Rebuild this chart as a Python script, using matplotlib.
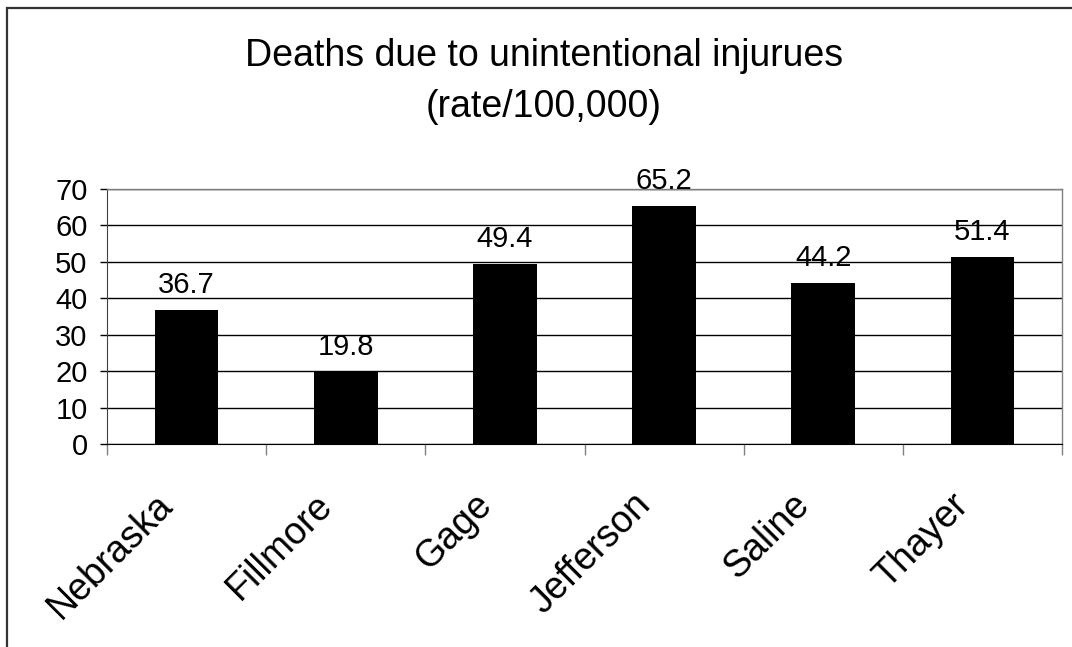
import numpy as np
import matplotlib
matplotlib.use("Agg")
import matplotlib.pyplot as plt
from matplotlib.patches import Rectangle
from matplotlib.transforms import ScaledTranslation

# === Data ===
counties = ["Nebraska", "Fillmore", "Gage", "Jefferson", "Saline", "Thayer"]
rates = [36.7, 19.8, 49.4, 65.2, 44.2, 51.4]
y_ticks = [0, 10, 20, 30, 40, 50, 60, 70]
title_line1 = "Deaths due to unintentional injurues"
title_line2 = "(rate/100,000)"

plt.rcParams["font.family"] = ["Liberation Sans", "DejaVu Sans"]

W, H = 1072, 647
fig = plt.figure(figsize=(W / 100, H / 100), dpi=100)

# outer chart frame (right and bottom edges fall outside the picture)
fig.patches.append(Rectangle((7 / W, -0.2), 1.2, 1.2 - 8 / H,
                             transform=fig.transFigure, fill=False,
                             edgecolor="#333333", linewidth=1.6))

# === Plot area ===
left, right, top, bottom = 107, 1062, 189, 444
ax = fig.add_axes([left / W, 1 - bottom / H, (right - left) / W, (bottom - top) / H])

x = np.arange(len(counties))
bars = ax.bar(x, rates, width=0.4, color="black", zorder=3)

ax.set_xlim(-0.5, len(counties) - 0.5)
ax.set_ylim(0, 70)
ax.set_yticks(y_ticks)
ax.yaxis.grid(True, color="black", linewidth=1, zorder=0)

for side in ["top", "right"]:
    ax.spines[side].set_color("#808080")
    ax.spines[side].set_linewidth(1)
ax.spines["left"].set_color("#404040")
ax.spines["bottom"].set_color("black")

ax.tick_params(axis="y", length=5, width=1, pad=9, labelsize=21)

ax.set_xticks(x)
ax.set_xticklabels(counties, rotation=45, ha="right", va="center",
                   rotation_mode="anchor", fontsize=27)
ax.tick_params(axis="x", which="major", length=0, pad=40)
ax.set_xticks(np.arange(len(counties) + 1) - 0.5, minor=True)
ax.tick_params(axis="x", which="minor", length=8, width=1, color="#808080")

shift = ScaledTranslation(-0.19, 0, fig.dpi_scale_trans)
for lab in ax.get_xticklabels():
    lab.set_transform(lab.get_transform() + shift)

# === Value labels ===
ax.bar_label(bars, labels=[f"{v}" for v in rates], padding=8, fontsize=21)

# === Title ===
fig.text(544 / W, 1 - 66 / H, title_line1, ha="center", va="baseline", fontsize=27)
fig.text(544 / W, 1 - 117 / H, title_line2, ha="center", va="baseline", fontsize=27)

fig.savefig("out.png", dpi=100)
